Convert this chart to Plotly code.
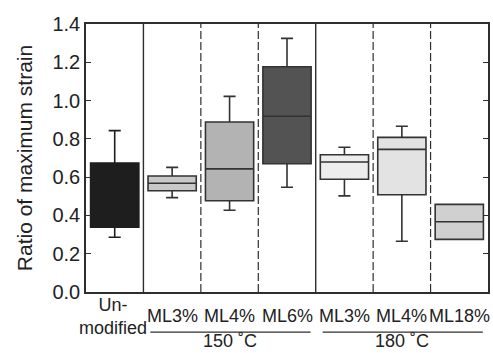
import plotly.graph_objects as go

# Samples (x-axis categories) and their box statistics
labels = ["Un-<br>modified", "ML3%", "ML4%", "ML6%", "ML3%", "ML4%", "ML18%"]
q1 = [0.338, 0.529, 0.477, 0.670, 0.589, 0.508, 0.275]
median = [0.500, 0.568, 0.643, 0.918, 0.679, 0.745, 0.367]
q3 = [0.674, 0.606, 0.888, 1.177, 0.717, 0.808, 0.458]
lower = [0.286, 0.493, 0.427, 0.547, 0.502, 0.265, 0.275]
upper = [0.843, 0.651, 1.022, 1.325, 0.756, 0.866, 0.458]
fills = ["#1e1e1e", "#c8c8c8", "#b3b3b3", "#535353", "#ededed", "#e3e3e3", "#d0d0d0"]
edges = ["#1e1e1e", "#333333", "#333333", "#333333", "#333333", "#333333", "#333333"]

# Treatment temperature groups: (label, first index, last index)
groups = [("150 ˚C", 1, 3), ("180 ˚C", 4, 6)]

FONT = "Arial, Liberation Sans, sans-serif"
AX = "#2e2e2e"

fig = go.Figure()
for i in range(len(labels)):
    fig.add_trace(go.Box(
        x=[i], q1=[q1[i]], median=[median[i]], q3=[q3[i]],
        lowerfence=[lower[i]], upperfence=[upper[i]],
        fillcolor=fills[i], line=dict(color=edges[i], width=1.6),
        width=0.84, whiskerwidth=0.25, showlegend=False,
        hoverinfo="skip",
    ))

shapes = []
# category separators: solid between groups, dashed within a group
group_starts = {g[1] for g in groups}
for i in range(1, len(labels)):
    solid = i in group_starts
    shapes.append(dict(
        type="line", xref="x", yref="paper", x0=i - 0.5, x1=i - 0.5, y0=0, y1=1,
        line=dict(color=AX, width=1.4 if solid else 1.2,
                  dash="solid" if solid else "8px,3px"),
    ))

annotations = []
for i, lab in enumerate(labels):
    annotations.append(dict(
        x=i, y=0, xref="x", yref="paper", text=lab, showarrow=False,
        yanchor="middle", yshift=-24, xshift=-2 if i == 0 else 0,
        font=dict(family=FONT, size=18, color="#222"),
    ))
for name, a, b in groups:
    shapes.append(dict(
        type="line", xref="x", yref="paper", x0=a - 0.38, x1=b + 0.41,
        y0=-0.150, y1=-0.150, line=dict(color=AX, width=1.3),
    ))
    annotations.append(dict(
        x=(a + b) / 2, y=0, xref="x", yref="paper", text=name, showarrow=False,
        yanchor="bottom", yshift=-61,
        font=dict(family=FONT, size=18, color="#222"),
    ))

fig.update_layout(
    width=493, height=353,
    margin=dict(l=86, r=3, t=24, b=61),
    paper_bgcolor="white", plot_bgcolor="white",
    boxmode="overlay",
    font=dict(family=FONT, color="#222"),
    shapes=shapes, annotations=annotations,
    xaxis=dict(
        range=[-0.5, len(labels) - 0.5], showticklabels=False, ticks="",
        showgrid=False, zeroline=False, showline=True, mirror=True,
        linecolor=AX, linewidth=1.5,
    ),
    yaxis=dict(
        range=[0, 1.4], dtick=0.2, tickformat=".1f",
        ticks="inside", ticklen=5, tickcolor=AX, tickwidth=1.3,
        showgrid=False, zeroline=False, showline=True, mirror="ticks",
        linecolor=AX, linewidth=1.5,
        tickfont=dict(family=FONT, size=20, color="#222"),
        title=dict(text="Ratio of maximum strain", standoff=14,
                   font=dict(family=FONT, size=21, color="#222")),
    ),
)

fig.write_html("out.html")
